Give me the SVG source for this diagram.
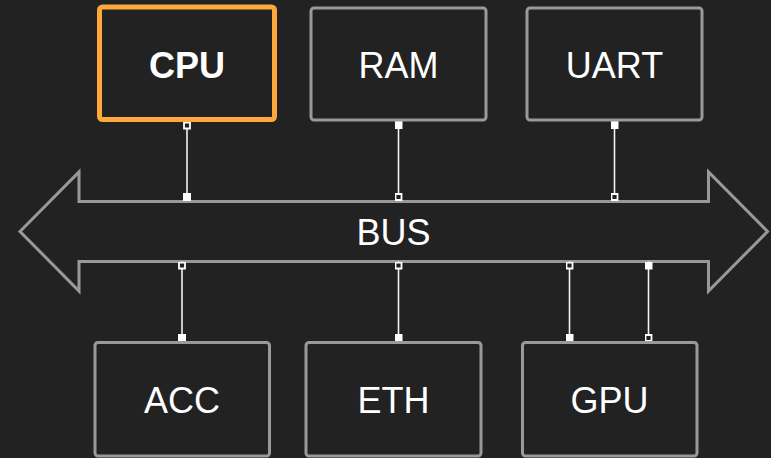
<svg xmlns="http://www.w3.org/2000/svg" width="771" height="458" viewBox="0 0 771 458">
  <style>
    .node rect { fill: #222222; stroke: #999999; stroke-width: 3; }
    #cpu rect { stroke: #fca83a; stroke-width: 5; }
    .label { font-family: "Liberation Sans", Arial, sans-serif; font-size: 36px; fill: #ffffff; text-anchor: middle; }
    .bold { font-weight: bold; }
    .bus-shape { fill: #222222; stroke: #999999; stroke-width: 3; stroke-linejoin: miter; }
    .link { stroke: #f2f2f2; stroke-width: 1.6; fill: none; }
    .fill-start { marker-start: url(#sq-fill); }
    .fill-end { marker-end: url(#sq-fill); }
    .open-start { marker-start: url(#sq-open); }
    .open-end { marker-end: url(#sq-open); }
  </style>
  <defs>
    <!-- port squares sit just inside each end of a link -->
    <marker id="sq-fill" viewBox="0 0 8 8" refX="8" refY="4" markerWidth="8" markerHeight="8" markerUnits="userSpaceOnUse" orient="auto-start-reverse">
      <rect x="0" y="0" width="8" height="8" fill="#ffffff"/>
    </marker>
    <marker id="sq-open" viewBox="0 0 8 8" refX="8" refY="4" markerWidth="8" markerHeight="8" markerUnits="userSpaceOnUse" orient="auto-start-reverse">
      <rect x="1" y="1" width="6" height="6" fill="#222222" stroke="#ffffff" stroke-width="1.8"/>
    </marker>
  </defs>

  <rect width="771" height="458" fill="#222222"/>

  <!-- shared bus: double-headed arrow -->
  <g id="bus">
    <polygon class="bus-shape" points="20,231.5 79,172 79,201.5 708.5,201.5 708.5,172 767.5,231.5 708.5,291 708.5,261.5 79,261.5 79,291"/>
    <text class="label" x="393.5" y="245">BUS</text>
  </g>

  <!-- links between devices and the bus -->
  <g id="connectors">
    <line class="link open-start fill-end" x1="187" y1="121.5" x2="187" y2="201"/>
    <line class="link fill-start open-end" x1="398.5" y1="121" x2="398.5" y2="201"/>
    <line class="link fill-start open-end" x1="614.5" y1="121" x2="614.5" y2="201"/>
    <line class="link open-start fill-end" x1="182" y1="261.5" x2="182" y2="342"/>
    <line class="link open-start fill-end" x1="398.5" y1="261.5" x2="398.5" y2="342"/>
    <line class="link open-start fill-end" x1="569.5" y1="261.5" x2="569.5" y2="342"/>
    <line class="link fill-start open-end" x1="648.5" y1="261.5" x2="648.5" y2="342"/>
  </g>

  <!-- top row -->
  <g id="cpu" class="node">
    <rect x="99.5" y="7" width="175" height="112.5" rx="3"/>
    <text class="label bold" x="187" y="78">CPU</text>
  </g>
  <g id="ram" class="node">
    <rect x="311" y="8" width="175" height="112" rx="3"/>
    <text class="label" x="398.5" y="78">RAM</text>
  </g>
  <g id="uart" class="node">
    <rect x="527" y="8" width="175" height="112" rx="3"/>
    <text class="label" x="614.5" y="78">UART</text>
  </g>

  <!-- bottom row -->
  <g id="acc" class="node">
    <rect x="95" y="342.5" width="174.5" height="113.5" rx="3"/>
    <text class="label" x="182" y="413">ACC</text>
  </g>
  <g id="eth" class="node">
    <rect x="306" y="342.5" width="175" height="113.5" rx="3"/>
    <text class="label" x="393.5" y="413">ETH</text>
  </g>
  <g id="gpu" class="node">
    <rect x="522.5" y="342.5" width="174.5" height="113.5" rx="3"/>
    <text class="label" x="609.5" y="413">GPU</text>
  </g>
</svg>
